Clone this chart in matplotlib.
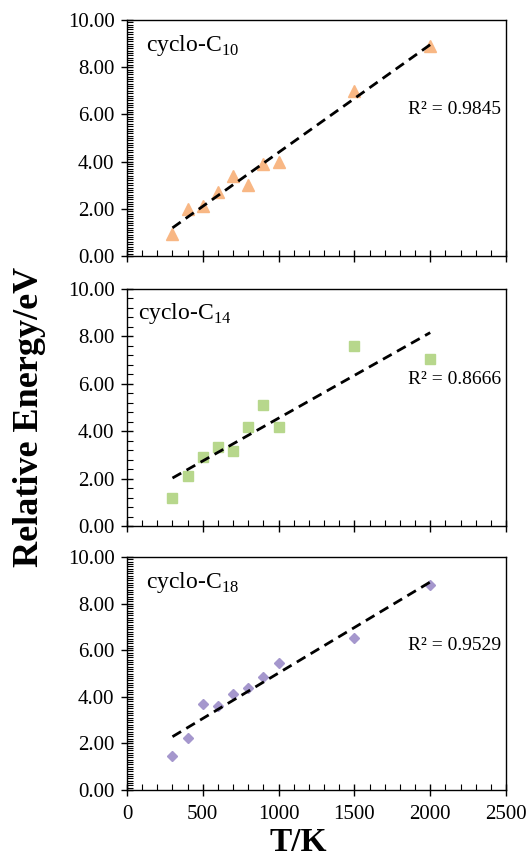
import numpy as np
import matplotlib.pyplot as plt
from matplotlib.ticker import MultipleLocator, FormatStrFormatter

plt.rcParams['font.family'] = ['Liberation Serif', 'DejaVu Serif']
plt.rcParams['mathtext.fontset'] = 'custom'
plt.rcParams['mathtext.rm'] = 'Liberation Serif'

temps = [300, 400, 500, 600, 700, 800, 900, 1000, 1500, 2000]
e_c10 = [0.95, 2.0, 2.1, 2.7, 3.4, 3.0, 3.9, 4.0, 7.0, 8.9]
e_c14 = [1.2, 2.1, 2.9, 3.33, 3.17, 4.19, 5.1, 4.19, 7.6, 7.03]
e_c18 = [1.46, 2.23, 3.71, 3.61, 4.11, 4.39, 4.86, 5.43, 6.53, 8.81]

names = [r'cyclo-C$_{\mathrm{10}}$', r'cyclo-C$_{\mathrm{14}}$', r'cyclo-C$_{\mathrm{18}}$']
r2_labels = ['R² = 0.9845', 'R² = 0.8666', 'R² = 0.9529']

fig = plt.figure(figsize=(5.29, 8.6), dpi=100)

# axes rectangles (pixels -> figure fraction)
left = 127 / 529
width = (506 - 127) / 529
rows = [(20, 256), (289, 526), (557, 790)]

styles = [
    dict(marker='^', ms=8.5, color='#F8B784'),
    dict(marker='s', ms=7.0, color='#B7D78C'),
    dict(marker='D', ms=5.4, color='#A597CD'),
]
minor_y = [0.1, 0.4, 0.1]
label_y = [0.869, 0.873, 0.867]
label_x = [0.05, 0.03, 0.05]

for i, energies in enumerate([e_c10, e_c14, e_c18]):
    top, bot = rows[i]
    ax = fig.add_axes([left, 1 - bot / 860, width, (bot - top) / 860])

    x = np.array(temps, dtype=float)
    y = np.array(energies)
    k, b = np.polyfit(x, y, 1)
    xs = np.array([x.min(), x.max()])
    ax.plot(xs, k * xs + b, color='black', lw=2.0, dashes=(3.6, 2.2), zorder=3)

    st = styles[i]
    ax.plot(x, y, linestyle='none', marker=st['marker'], ms=st['ms'],
            mfc=st['color'], mec=st['color'], zorder=2)

    ax.set_xlim(0, 2500)
    ax.set_ylim(0, 10)
    ax.xaxis.set_major_locator(MultipleLocator(500))
    ax.xaxis.set_minor_locator(MultipleLocator(100))
    ax.yaxis.set_major_locator(MultipleLocator(2))
    ax.yaxis.set_minor_locator(MultipleLocator(minor_y[i]))
    ax.yaxis.set_major_formatter(FormatStrFormatter('%.2f'))
    ax.tick_params(which='major', direction='inout', length=8, width=1.0,
                   labelsize=15, pad=5)
    ax.tick_params(axis='x', pad=7)
    ax.tick_params(which='minor', direction='in', length=4, width=0.8)
    if i < 2:
        ax.tick_params(axis='x', labelbottom=False)
    for sp in ax.spines.values():
        sp.set_linewidth(1.0)

    ax.text(label_x[i], label_y[i], names[i], transform=ax.transAxes,
            fontsize=17, va='baseline', ha='left')
    ax.text(0.742, 0.62, r2_labels[i], transform=ax.transAxes,
            fontsize=14, va='center', ha='left')

fig.text(298 / 529, 1 - 858 / 860, 'T/K', fontsize=24, fontweight='bold',
         ha='center', va='bottom')
fig.text(0.056, 0.515, 'Relative Energy/eV', rotation=90, fontsize=26,
         fontweight='bold', ha='center', va='center')

fig.savefig('out.png', dpi=100)
